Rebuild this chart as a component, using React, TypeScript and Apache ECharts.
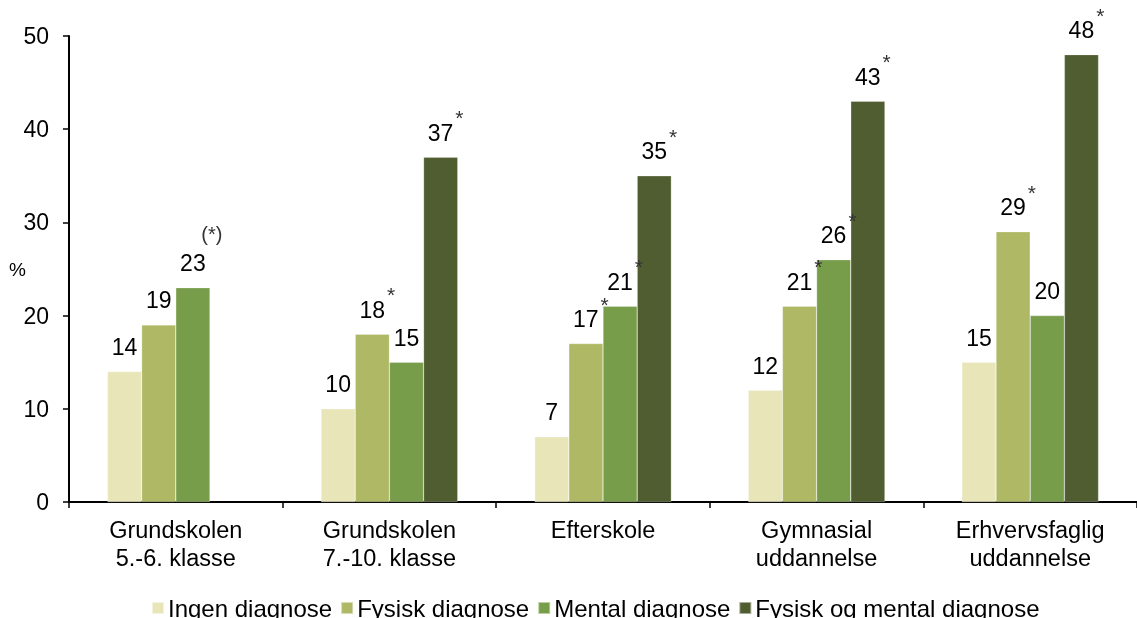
import React, { useEffect, useRef } from "react";
import * as echarts from "echarts";

const categories = [
  "Grundskolen\n5.-6. klasse",
  "Grundskolen\n7.-10. klasse",
  "Efterskole",
  "Gymnasial\nuddannelse",
  "Erhvervsfaglig\nuddannelse",
];
const seriesNames = ["Ingen diagnose", "Fysisk diagnose", "Mental diagnose", "Fysisk og mental diagnose"];
const ingenValues = [14, 10, 7, 12, 15];
const fysiskValues = [19, 18, 17, 21, 29];
const mentalValues = [23, 15, 21, 26, 20];
const beggeValues = [null, 37, 35, 43, 48];
const ingenMarks = ["", "", "", "", ""];
const fysiskMarks = ["", "*", "*", "*", "*"];
const mentalMarks = ["(*)", "", "*", "*", ""];
const beggeMarks = ["", "*", "*", "*", "*"];
const colors = ["#E8E6B8", "#AFB865", "#789D4A", "#4F5D30"];
const yTicks = { min: 0, max: 50, interval: 10 };

const FONT = "'Liberation Sans', Arial, sans-serif";

export default function App() {
  const ref = useRef<HTMLDivElement>(null);
  useEffect(() => {
    if (!ref.current) return;
    const chart = echarts.init(ref.current, null, { renderer: "svg" });
    const valueSets = [ingenValues, fysiskValues, mentalValues, beggeValues];
    const markSets = [ingenMarks, fysiskMarks, mentalMarks, beggeMarks];
    const series = valueSets.map((vals, i) => ({
      name: seriesNames[i],
      type: "bar",
      data: vals.map((v) => (v === null ? "-" : v)),
      barGap: "0%",
      barCategoryGap: "36%",
      itemStyle: { color: colors[i], borderColor: "rgba(255,255,255,0.5)", borderWidth: 0.5 },
      label: {
        show: true,
        position: "top",
        distance: 13,
        fontFamily: FONT,
        formatter: (p: any) => {
          const m = markSets[i][p.dataIndex];
          if (m === "*") return `{vp|${p.value}}{s|*}`;
          if (m === "(*)") return `{p|(*)}\n{v|${p.value}}`;
          return `{v|${p.value}}`;
        },
        rich: {
          v: { fontSize: 23, lineHeight: 23, color: "#000", fontFamily: FONT, verticalAlign: "bottom" },
          vp: { fontSize: 23, lineHeight: 23, color: "#000", fontFamily: FONT, verticalAlign: "bottom", padding: [0, 0, 0, 10] },
          s: { fontSize: 21, lineHeight: 21, color: "#333", fontFamily: FONT, verticalAlign: "bottom", padding: [0, 0, 16, 2] },
          p: { fontSize: 20, lineHeight: 22, color: "#333", fontFamily: FONT, padding: [0, 0, 13, 38] },
        },
      },
    }));
    chart.setOption({
      animation: false,
      textStyle: { fontFamily: FONT },
      grid: { left: 69, top: 36, width: 1073, height: 466, containLabel: false },
      legend: {
        data: seriesNames,
        left: 146,
        top: 591,
        itemWidth: 12,
        itemHeight: 12,
        itemGap: 8,
        icon: "rect",
        textStyle: { fontSize: 24, color: "#000", fontFamily: FONT, padding: [0, 0, 0, -1] },
      },
      xAxis: {
        type: "category",
        data: categories,
        axisLine: { lineStyle: { color: "#000", width: 2 } },
        axisTick: { show: true, length: 6, lineStyle: { color: "#000", width: 1.5 } },
        axisLabel: { fontSize: 23.5, lineHeight: 28, color: "#000", margin: 14, fontFamily: FONT },
      },
      yAxis: {
        type: "value",
        min: yTicks.min,
        max: yTicks.max,
        interval: yTicks.interval,
        splitLine: { show: false },
        axisLine: { show: true, lineStyle: { color: "#000", width: 2 } },
        axisTick: { show: true, length: 6, lineStyle: { color: "#000", width: 1.5 } },
        axisLabel: { fontSize: 23, color: "#000", margin: 20, fontFamily: FONT },
      },
      graphic: [
        {
          type: "text",
          left: 9,
          top: 260,
          style: { text: "%", fontSize: 19, fill: "#000", fontFamily: FONT },
        },
      ],
      series,
    });
    return () => chart.dispose();
  }, []);
  return <div ref={ref} style={{ position: "fixed", left: 0, top: 0, width: 1137, height: 618 }} />;
}
